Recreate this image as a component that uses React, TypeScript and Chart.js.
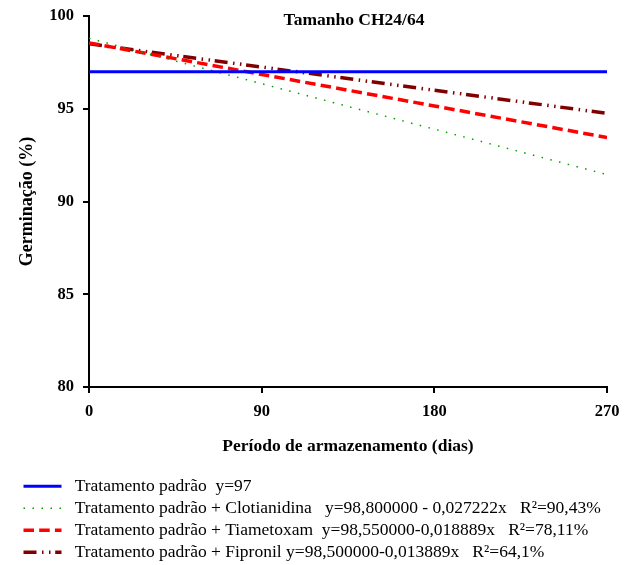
import React, { useEffect, useRef } from "react";
import { Chart, registerables } from "chart.js";

Chart.register(...registerables);

const days = [0, 90, 180, 270];
const padrao = [97, 97, 97, 97];
const clotianidina = [98.8, 96.35, 93.9, 91.45];
const tiametoxam = [98.55, 96.85, 95.15, 93.45];
const fipronil = [98.5, 97.25, 96.0, 94.75];

const seriesLabels = [
  "Tratamento padrão  y=97",
  "Tratamento padrão + Clotianidina   y=98,800000 - 0,027222x   R²=90,43%",
  "Tratamento padrão + Tiametoxam  y=98,550000-0,018889x   R²=78,11%",
  "Tratamento padrão + Fipronil y=98,500000-0,013889x   R²=64,1%",
];

const xTicks = [0, 90, 180, 270];
const yTicks = [80, 85, 90, 95, 100];
const plotTitle = "Tamanho CH24/64";
const xTitle = "Período de armazenamento (dias)";
const yTitle = "Germinação (%)";

const FONT = '"Liberation Serif", "Times New Roman", serif';

const toPoints = (ys: number[]) => days.map((d, i) => ({ x: d, y: ys[i] }));

const titlePlugin = {
  id: "plotTitle",
  afterDraw(chart: any) {
    const { ctx, chartArea } = chart;
    ctx.save();
    ctx.font = `bold 17.5px ${FONT}`;
    ctx.fillStyle = "#000";
    ctx.textAlign = "center";
    ctx.textBaseline = "middle";
    ctx.fillText(plotTitle, chartArea.left + 265, chartArea.top + 4.5);
    ctx.restore();
  },
};

export default function App() {
  const ref = useRef<HTMLCanvasElement | null>(null);

  useEffect(() => {
    document.body.style.margin = "0";
    document.body.style.overflow = "hidden";
    document.documentElement.style.overflow = "hidden";
    if (!ref.current) return;
    Chart.defaults.font.family = FONT;
    Chart.defaults.color = "#000";

    const chart = new Chart(ref.current, {
      type: "line",
      data: {
        datasets: [
          {
            label: seriesLabels[0],
            data: toPoints(padrao),
            borderColor: "#0000ff",
            backgroundColor: "#0000ff",
            borderWidth: 3,
            pointRadius: 0,
          },
          {
            label: seriesLabels[1],
            data: toPoints(clotianidina),
            borderColor: "#00a000",
            backgroundColor: "#00a000",
            borderWidth: 1.5,
            borderDash: [1.5, 7.5],
            pointRadius: 0,
          },
          {
            label: seriesLabels[2],
            data: toPoints(tiametoxam),
            borderColor: "#ff0000",
            backgroundColor: "#ff0000",
            borderWidth: 3.5,
            borderDash: [10.5, 5.2],
            pointRadius: 0,
          },
          {
            label: seriesLabels[3],
            data: toPoints(fipronil),
            borderColor: "#800000",
            backgroundColor: "#800000",
            borderWidth: 3.5,
            borderDash: [13, 5.5, 1.5, 5.5, 1.5, 4.7],
            pointRadius: 0,
          },
        ],
      },
      options: {
        animation: false,
        responsive: false,
        events: [],
        layout: { padding: { top: 16, right: 17, left: 19, bottom: 0 } },
        scales: {
          x: {
            type: "linear",
            min: 0,
            max: 270,
            afterBuildTicks: (scale: any) => {
              scale.ticks = xTicks.map((v) => ({ value: v }));
            },
            afterFit: (scale: any) => {
              scale.height = 86;
              scale.paddingLeft = 0;
              scale.paddingRight = 0;
            },
            ticks: {
              font: { size: 16.5, weight: "bold" },
              color: "#000",
              padding: 9,
              maxRotation: 0,
            },
            grid: {
              drawOnChartArea: false,
              drawTicks: true,
              tickLength: 6,
              color: "#000",
              lineWidth: 2,
            },
            border: { display: true, color: "#000", width: 2 },
            title: {
              display: true,
              text: xTitle,
              font: { size: 17.5, weight: "bold" },
              color: "#000",
              padding: { top: 0, bottom: 16 },
            },
          },
          y: {
            type: "linear",
            min: 80,
            max: 100,
            afterBuildTicks: (scale: any) => {
              scale.ticks = yTicks.map((v) => ({ value: v }));
            },
            afterFit: (scale: any) => {
              scale.width = 70;
              scale.paddingTop = 0;
              scale.paddingBottom = 0;
            },
            ticks: {
              font: { size: 16.5, weight: "bold" },
              color: "#000",
              padding: 9,
            },
            grid: {
              drawOnChartArea: false,
              drawTicks: true,
              tickLength: 6,
              color: "#000",
              lineWidth: 2,
            },
            border: { display: true, color: "#000", width: 2 },
            title: {
              display: true,
              text: yTitle,
              font: { size: 18, weight: "bold" },
              color: "#000",
              padding: { top: -2, bottom: 0 },
            },
          },
        },
        plugins: {
          tooltip: { enabled: false },
          legend: {
            display: true,
            position: "bottom",
            align: "start",
            labels: {
              usePointStyle: true,
              pointStyle: "line",
              pointStyleWidth: 38,
              padding: 4.5,
              color: "#000",
              font: { size: 17.5, weight: "normal" },
              generateLabels: (ch: any) => {
                const items = Chart.defaults.plugins.legend.labels.generateLabels(ch);
                return items.map((it: any, i: number) => {
                  const ds: any = ch.data.datasets[i];
                  return {
                    ...it,
                    text: " " + it.text,
                    lineDash: ds.borderDash || [],
                    lineWidth: ds.borderWidth,
                    strokeStyle: ds.borderColor,
                    fillStyle: ds.borderColor,
                  };
                });
              },
            },
          },
        },
      },
      plugins: [titlePlugin],
    } as any);

    return () => chart.destroy();
  }, []);

  return <canvas ref={ref} width={624} height={571} style={{ display: "block" }} />;
}
